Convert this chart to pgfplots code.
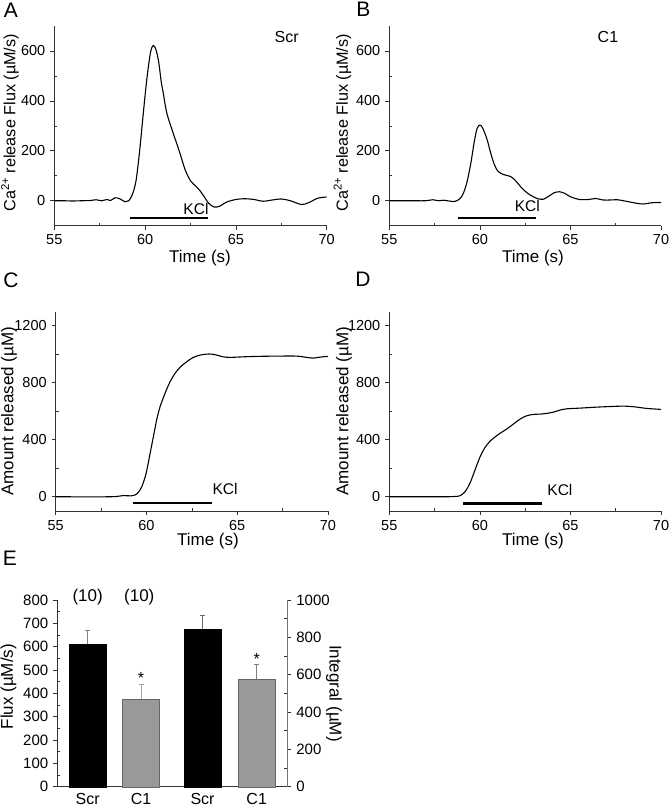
\documentclass[border=0pt]{standalone}
\usepackage{fontspec}
\setmainfont{Liberation Sans}
\usepackage{pgfplots}
\pgfplotsset{compat=1.18}
\definecolor{bargray}{HTML}{999999}
\tikzset{kcltext/.style={inner sep=0pt, font=\fontsize{15.5}{18}\selectfont}}
\pgfplotsset{
  panel/.style={
    scale only axis,
    axis x line*=bottom, axis y line*=left,
    axis line style={black!80, line width=0.8pt},
    tick style={black!80, line width=0.7pt},
    tick align=outside,
    major tick length=4pt,
    /pgf/number format/assume math mode=true,
    /pgf/number format/1000 sep={},
    every axis label/.append style={font=\fontsize{17}{20}\selectfont},
    extra x tick labels={}, extra y tick labels={},
    extra x tick style={tick align=inside, major tick length=3pt},
    extra y tick style={tick align=inside, major tick length=3pt},
    clip=false,
  },
  timepanel/.style={
    panel,
    xmin=55, xmax=70, xtick={55,60,65,70}, extra x ticks={57.5,62.5,67.5},
    xlabel={Time (s)},
  },
  curve/.style={black, line width=1.1pt, smooth, tension=0.5, no markers},
  kcl/.style={black, line width=2.6pt, no markers},
}
\begin{document}%
\fontsize{14.5}{17}\selectfont%
\begin{tikzpicture}
\useasboundingbox (0,0) rectangle (670pt,-809pt);
% panel letters
\node[font=\fontsize{21}{25}\selectfont] at (11pt,-10pt) {A};
\node[font=\fontsize{21}{25}\selectfont] at (363.5pt,-9pt) {B};
\node[font=\fontsize{21}{25}\selectfont] at (11pt,-280pt) {C};
\node[font=\fontsize{21}{25}\selectfont] at (363pt,-279pt) {D};
\node[font=\fontsize{21}{25}\selectfont] at (10pt,-558pt) {E};

% ---------------- A
\begin{axis}[timepanel, at={(54.3pt,-225.7pt)}, anchor=south west,
  width=272.4pt, height=199.7pt,
  ymin=-100, ymax=700, ytick={0,200,400,600}, extra y ticks={100,300,500},
  ylabel={Ca\textsuperscript{2+} release Flux (µM/s)},
  ylabel style={at={(axis description cs:-0.163,0.515)}, anchor=center, font=\fontsize{16.2}{19}\selectfont},
  xlabel style={at={(axis description cs:0.535,-0.162)}, anchor=center}]
\addplot[curve] coordinates {
(55,0) (55.5,0) (56,-1) (56.5,0) (57,1) (57.3,4) (57.6,0) (57.9,5) (58.1,1)
(58.35,12) (58.6,8) (58.9,-4) (59.1,0) (59.3,25) (59.5,80) (59.7,200)
(59.9,350) (60.1,490) (60.3,595) (60.45,622) (60.6,605) (60.75,555)
(60.9,470) (61.0,431) (61.2,350) (61.55,270) (61.9,195) (62.2,125)
(62.5,80) (62.8,58) (63.0,42) (63.2,22) (63.5,-10) (63.8,-25) (64.1,-22)
(64.5,-5) (65.0,5) (65.5,8) (66.0,5) (66.5,-2) (67.0,3) (67.5,7) (68.0,0)
(68.6,-15) (69.0,-8) (69.5,10) (70,15)};
\addplot[kcl] coordinates {(59.17,-69) (63.48,-69)};
\node[kcltext, anchor=base east] at (axis cs:63.5,-55) {KCl};
\node[font=\fontsize{16}{19}\selectfont] at (axis cs:67.8,657) {Scr};
\end{axis}

% ---------------- B
\begin{axis}[timepanel, at={(389.3pt,-225.7pt)}, anchor=south west,
  width=271.7pt, height=199.7pt,
  ymin=-100, ymax=700, ytick={0,200,400,600}, extra y ticks={100,300,500},
  ylabel={Ca\textsuperscript{2+} release Flux (µM/s)},
  ylabel style={at={(axis description cs:-0.172,0.515)}, anchor=center, font=\fontsize{16.2}{19}\selectfont},
  xlabel style={at={(axis description cs:0.529,-0.162)}, anchor=center}]
\addplot[curve] coordinates {
(55,0) (56,0) (57,0) (57.4,4) (57.7,0) (58.0,2) (58.3,-1) (58.6,-3)
(58.9,8) (59.1,32) (59.3,78) (59.5,150) (59.7,240) (59.85,290) (60.0,303)
(60.15,292) (60.4,245) (60.6,190) (60.8,145) (61.0,118) (61.3,105)
(61.7,97) (62.0,78) (62.3,52) (62.6,32) (62.9,18) (63.2,8) (63.5,6)
(63.8,18) (64.1,32) (64.4,36) (64.7,29) (65.0,16) (65.5,5) (66.0,5)
(66.4,9) (66.8,3) (67.2,3) (67.6,4) (68.0,-1) (68.5,-8) (69.0,-13)
(69.5,-8) (70,-7)};
\addplot[kcl] coordinates {(58.81,-69) (63.1,-69)};
\node[kcltext, anchor=base east] at (axis cs:63.32,-44) {KCl};
\node[font=\fontsize{16}{19}\selectfont] at (axis cs:67.07,657) {C1};
\end{axis}

% ---------------- C
\begin{axis}[timepanel, at={(55.7pt,-511pt)}, anchor=south west,
  width=272.3pt, height=199.5pt,
  ymin=-100, ymax=1300, ytick={0,400,800,1200}, extra y ticks={200,600,1000},
  ylabel={Amount released (µM)},
  ylabel style={at={(axis description cs:-0.1715,0.5)}, anchor=center},
  xlabel style={at={(axis description cs:0.559,-0.153)}, anchor=center}]
\addplot[curve] coordinates {
(55,0) (58,0) (58.7,8) (59.2,7) (59.5,23) (59.74,70) (59.98,164)
(60.2,304) (60.38,421) (60.56,538) (60.75,632) (61.02,725) (61.3,807)
(61.57,865) (61.85,908) (62.21,947) (62.58,978) (62.95,994) (63.32,1001)
(63.59,1001) (63.87,994) (64.23,982) (64.6,978) (65.34,982) (66.07,985)
(67.17,987) (68.27,987) (68.82,978) (69.19,973) (69.56,980) (70,985)};
\addplot[kcl] coordinates {(59.28,-44) (63.63,-44)};
\node[kcltext, anchor=base west] at (axis cs:63.63,19) {KCl};
\end{axis}

% ---------------- D
\begin{axis}[timepanel, at={(389.3pt,-511pt)}, anchor=south west,
  width=271.7pt, height=199.5pt,
  ymin=-100, ymax=1300, ytick={0,400,800,1200}, extra y ticks={200,600,1000},
  ylabel={Amount released (µM)},
  ylabel style={at={(axis description cs:-0.167,0.5)}, anchor=center},
  xlabel style={at={(axis description cs:0.529,-0.153)}, anchor=center}]
\addplot[curve] coordinates {
(55,0) (58,0) (58.6,2) (58.9,7) (59.18,35) (59.45,94) (59.73,187)
(60.01,280) (60.28,345) (60.56,390) (60.74,410) (61.11,445) (61.48,475)
(61.85,510) (62.22,545) (62.58,568) (62.95,578) (63.32,580) (63.69,585)
(64.06,594) (64.42,608) (64.79,617) (65.53,622) (66.45,629) (67.37,634)
(67.92,636) (68.47,632) (69.21,620) (70,613)};
\addplot[kcl] coordinates {(59.09,-47) (63.45,-47)};
\node[kcltext, anchor=base west] at (axis cs:63.72,12) {KCl};
\end{axis}

% ---------------- E (left axis)
\begin{axis}[panel, at={(57.3pt,-786.7pt)}, anchor=south west,
  width=230pt, height=186.7pt,
  xmin=0, xmax=230, ymin=0, ymax=800,
  ytick={0,100,...,800}, extra y ticks={50,150,...,750},
  yticklabel style={font=\fontsize{15}{18}\selectfont},
  xtick={30.4,83.7,145.2,199.4}, xticklabels={Scr,C1,Scr,C1},
  xticklabel style={font=\fontsize{16}{19}\selectfont, yshift=2pt},
  x tick style={draw=none},
  ylabel={Flux (µM/s)},
  ylabel style={at={(axis description cs:-0.212,0.536)}, anchor=center}]
\addplot[ybar, bar width=37pt, fill=black, draw=black,
  error bars/.cd, y dir=plus, y explicit,
  error bar style={gray, line width=0.8pt},
  error mark options={gray, mark size=2.5pt, line width=0.8pt, rotate=90}]
  coordinates {(30.4,612) +- (0,59)};
\addplot[ybar, bar width=37pt, fill=bargray, draw=black!60,
  error bars/.cd, y dir=plus, y explicit,
  error bar style={black!35, line width=0.8pt},
  error mark options={black!35, mark size=2.5pt, line width=0.8pt, rotate=90}]
  coordinates {(83.7,377) +- (0,63)};
\node[font=\fontsize{17}{20}\selectfont] at (axis cs:30.4,814) {(10)};
\node[font=\fontsize{17}{20}\selectfont] at (axis cs:82,814) {(10)};
\node[anchor=base, inner sep=0pt, font=\fontsize{16}{19}\selectfont] at (axis cs:83.7,441) {*};
\end{axis}

% ---------------- E (right axis)
\begin{axis}[panel, at={(57.3pt,-786.7pt)}, anchor=south west,
  width=230pt, height=186.7pt,
  axis x line=none, axis y line*=right,
  axis line style={black!55, line width=0.8pt},
  xmin=0, xmax=230, ymin=0, ymax=1000,
  ytick={0,200,...,1000}, extra y ticks={100,300,...,900},
  yticklabel style={font=\fontsize{15}{18}\selectfont},
  ylabel={Integral (µM)},
  every axis y label/.style={at={(axis description cs:1.203,0.5)}, anchor=center, rotate=-90}]
\addplot[ybar, bar width=37pt, fill=black, draw=black,
  error bars/.cd, y dir=plus, y explicit,
  error bar style={black!60, line width=0.8pt},
  error mark options={black!60, mark size=2.5pt, line width=0.8pt, rotate=90}]
  coordinates {(145.2,843) +- (0,77)};
\addplot[ybar, bar width=37pt, fill=bargray, draw=black!60,
  error bars/.cd, y dir=plus, y explicit,
  error bar style={black!50, line width=0.8pt},
  error mark options={black!50, mark size=2.5pt, line width=0.8pt, rotate=90}]
  coordinates {(199.4,575) +- (0,81)};
\node[anchor=base, inner sep=0pt, font=\fontsize{16}{19}\selectfont] at (axis cs:199.4,657) {*};
\end{axis}
\end{tikzpicture}%
\end{document}
